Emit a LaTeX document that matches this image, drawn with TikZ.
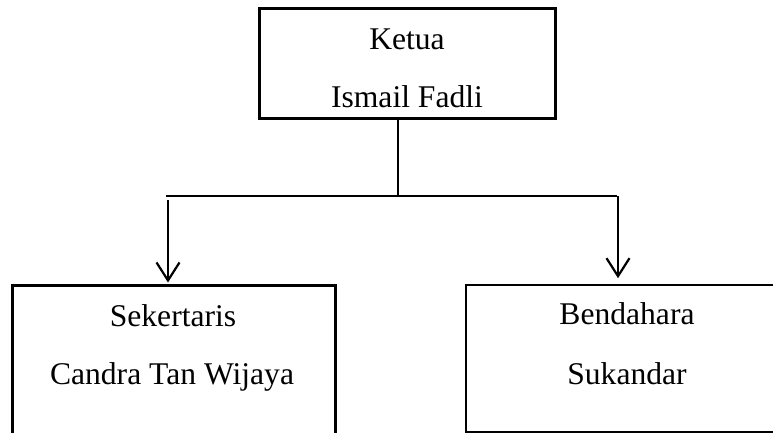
\documentclass[tikz,border=0pt]{standalone}
\usepackage{fontspec}
\setmainfont{Liberation Serif}
\usetikzlibrary{arrows.meta}
\begin{document}
\begin{tikzpicture}[x=1pt,y=-1pt,
  orgbox/.style={draw=black,rectangle,inner sep=0pt},
  lbl/.style={anchor=base,inner sep=0pt,font=\fontsize{31.6}{38}\selectfont},
  link/.style={draw=black,line width=1.3pt},
  down/.style={draw=black,line width=2.6pt,-{Straight Barb[length=18pt,width=23pt,line width=2.2pt]}}]
\useasboundingbox (0,0) rectangle (773,433);
\clip (0,0) rectangle (773,433);
\fill[white] (0,0) rectangle (773,433);
% boxes
\node[orgbox,line width=3pt,minimum width=296pt,minimum height=110pt] (ketua) at (407,64) {};
\node[orgbox,line width=3pt,minimum width=323pt,minimum height=170pt] (sek) at (173.5,370) {};
\node[orgbox,line width=1.6pt,minimum width=330pt,minimum height=147pt] (bend) at (631,358.5) {};
% labels
\node[lbl] (t1) at (407,50) {Ketua};
\node[lbl] (t2) at (407,108) {Ismail Fadli};
\node[lbl] (t3) at (173,326) {Sekertaris};
\node[lbl] (t4) at (172,384) {Candra Tan Wijaya};
\node[lbl] (t5) at (627,324) {Bendahara};
\node[lbl] (t6) at (627,384) {Sukandar};
% connectors
\coordinate (j) at (398,196);
\coordinate (hl) at (166,196);
\coordinate (hr) at (617,196);
\coordinate (al) at (168,200);
\coordinate (ar) at (618,196);
\draw[link] (ketua.south -| j) -- (j);
\draw[link] (hl) -- (hr);
\draw[down] (al) -- ([yshift=1pt]al |- sek.north);
\draw[down] (ar) -- ([yshift=6pt]ar |- bend.north);
\end{tikzpicture}
\end{document}
